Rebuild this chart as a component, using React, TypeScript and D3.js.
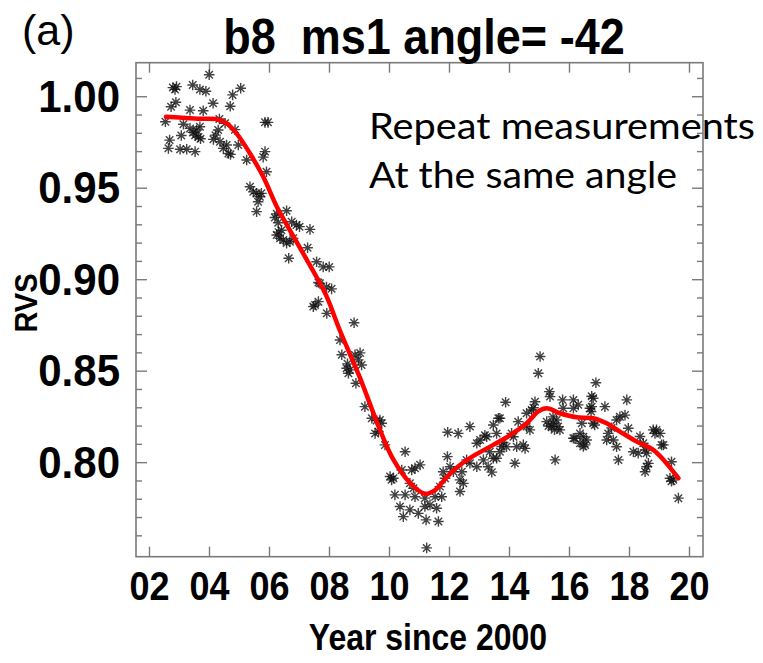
import React from "react";
import * as d3 from "d3";

// Measurements: [year since 2000, RVS]
const measurements: [number, number][] = [
  [3.99,1.012],[2.78,1.005],[2.90,1.0055],[2.85,1.004],[3.44,1.0064],[3.68,1.004],[3.88,1.003],[4.77,1.001],[5.04,1.0046],
  [2.88,0.997],[2.72,0.9945],[4.12,0.9964],[4.69,0.9948],[3.35,0.9927],[3.79,0.9923],
  [2.53,0.9863],[3.13,0.985],[3.35,0.9827],[3.57,0.9818],[3.68,0.9836],[3.52,0.979],[3.63,0.978],[3.06,0.9788],[2.67,0.9763],[2.63,0.9718],[3.02,0.9713],[3.24,0.9713],[3.52,0.970],[3.45,0.9805],[3.70,0.977],
  [4.13,0.9767],[4.29,0.9818],[4.52,0.9855],[4.33,0.9878],[4.35,0.9754],[4.57,0.9736],[4.46,0.9718],[4.63,0.969],[4.70,0.9685],[4.85,0.982],[4.96,0.9736],[4.20,0.979],
  [5.85,0.986],[5.95,0.986],[5.79,0.967],[5.85,0.970],[5.24,0.9654],[5.90,0.959],
  [5.35,0.9508],[5.46,0.948],[5.57,0.9472],[5.68,0.9453],[5.73,0.9472],[5.62,0.9426],[5.57,0.9372],
  [6.18,0.934],[6.24,0.936],[6.57,0.9377],[6.29,0.9311],[6.24,0.9244],[6.35,0.9226],[6.46,0.9217],[6.57,0.920],[6.68,0.9208],[6.79,0.9226],[6.74,0.9317],[6.90,0.9299],[7.00,0.929],[7.35,0.9275],[6.30,0.926],[6.40,0.927],
  [6.64,0.9117],[7.27,0.9175],[7.57,0.9098],[7.79,0.907],[7.99,0.907],[7.63,0.8985],[7.68,0.898],[7.90,0.896],[8.07,0.895],[7.52,0.8862],[7.46,0.8853],[7.63,0.888],[7.91,0.8816],
  [8.82,0.8765],[8.35,0.867],[8.41,0.859],[8.85,0.8589],[8.96,0.8562],[9.07,0.8534],[8.57,0.8516],[8.68,0.8507],[8.63,0.8489],[9.02,0.860],[8.60,0.854],[8.88,0.8434],
  [9.18,0.8306],[9.41,0.8243],[9.68,0.8233],[9.74,0.8215],[9.57,0.823],[9.52,0.816],[9.63,0.817],[9.85,0.8097],[10.52,0.806],
  [10.02,0.7924],[10.13,0.7915],[10.07,0.7906],[10.41,0.796],[10.74,0.796],[10.85,0.797],[11.02,0.7988],[10.68,0.7887],[10.80,0.786],
  [10.18,0.7824],[10.52,0.7824],[10.85,0.7814],[11.18,0.7806],[11.52,0.7814],[11.74,0.7814],
  [10.35,0.776],[10.68,0.7742],[10.46,0.7705],[10.96,0.7723],[11.18,0.776],[11.35,0.7769],[11.57,0.7751],[11.22,0.7687],[11.63,0.7678],[11.24,0.7534],
  [11.68,0.7869],[11.85,0.7915],[11.79,0.795],[11.93,0.8033],[12.02,0.7978],
  [11.94,0.8166],[12.29,0.816],[12.68,0.8197],
  [12.13,0.795],[12.41,0.795],[12.35,0.7906],[12.46,0.7887],[12.35,0.7842],[12.57,0.8015],[12.68,0.7997],[12.91,0.7978],
  [12.91,0.8106],[13.02,0.8124],[13.18,0.815],[13.13,0.8015],[13.29,0.7978],
  [13.46,0.8206],[13.63,0.8243],[13.57,0.816],[13.24,0.8142],[13.87,0.833],[13.41,0.7948],[13.57,0.8024],[13.68,0.806],[13.74,0.8088],[13.68,0.8243],[13.79,0.811],[13.34,0.806],[13.46,0.8024],
  [14.18,0.7997],[13.90,0.8087],[14.24,0.8087],[14.46,0.8097],[14.52,0.8078],[14.29,0.8224],[14.07,0.816],[14.13,0.8142],[14.57,0.8197],[14.68,0.8179],[14.74,0.8288],[14.85,0.8333],[14.80,0.830],[14.57,0.827],
  [15.02,0.858],[14.96,0.8489],[15.33,0.8388],[15.35,0.8361],
  [15.24,0.8224],[15.46,0.8215],[15.57,0.8233],[15.62,0.8197],[15.40,0.8197],[15.68,0.8179],[15.30,0.820],[15.50,0.818],[15.45,0.825],[15.52,0.8015],
  [15.77,0.8343],[16.13,0.8343],[16.29,0.8316],[16.13,0.8297],[15.79,0.8297],
  [16.41,0.8215],[16.13,0.8133],[16.46,0.8142],[16.57,0.8124],[16.52,0.8097],[16.35,0.8106],[16.35,0.816],[16.18,0.8133],[16.46,0.8088],
  [16.79,0.8352],[16.68,0.8297],[16.88,0.8437],[16.74,0.8363],[16.74,0.8306],[16.72,0.8279],[17.18,0.8306],[16.79,0.8215],[16.84,0.8206],
  [17.29,0.816],[17.24,0.8124],[17.46,0.8124],[17.57,0.8087],[17.63,0.8015],[17.40,0.819],
  [17.57,0.8233],[17.68,0.8251],[17.85,0.826],[17.96,0.8188],[17.91,0.8343],
  [18.13,0.806],[18.29,0.8052],[18.46,0.8106],[18.52,0.807],[18.57,0.8052],[18.35,0.8143],[18.57,0.7978],[18.52,0.795],[18.63,0.7996],
  [18.79,0.8179],[18.90,0.8179],[18.85,0.816],[19.02,0.816],[19.07,0.8097],[19.13,0.8097],
  [19.40,0.8005],[19.35,0.7915],[19.46,0.7906],[19.40,0.7898],[19.63,0.7806],
];

// Smoothed fit (red curve)
const fitYears = [2.55,3.0,3.7,4.2,4.55,4.9,5.35,5.8,6.24,6.68,7.24,7.6,7.9,8.35,9.0,9.68,10.13,10.68,11.18,11.52,11.9,12.35,12.8,13.46,14.02,14.57,14.96,15.24,15.68,16.24,16.79,17.24,17.68,18.24,18.79,19.13,19.63];
const fitRVS = [0.989,0.9886,0.988,0.9878,0.9857,0.980,0.969,0.956,0.940,0.927,0.911,0.9005,0.891,0.8721,0.847,0.818,0.8016,0.789,0.783,0.785,0.792,0.7987,0.8037,0.8097,0.815,0.8215,0.828,0.8297,0.827,0.8248,0.8243,0.8215,0.817,0.8115,0.807,0.8016,0.7915];

const xTickValues = [2, 4, 6, 8, 10, 12, 14, 16, 18, 20];
const xTickLabels = ["02", "04", "06", "08", "10", "12", "14", "16", "18", "20"];
const yMajorTicks = [0.8, 0.85, 0.9, 0.95, 1.0];
const yMajorLabels = ["0.80", "0.85", "0.90", "0.95", "1.00"];
const yMinorTicks = [0.76,0.77,0.78,0.79,0.81,0.82,0.83,0.84,0.86,0.87,0.88,0.89,0.91,0.92,0.93,0.94,0.96,0.97,0.98,0.99,1.01];

const title = "b8  ms1 angle= -42";
const panelLabel = "(a)";
const xLabel = "Year since 2000";
const yLabel = "RVS";
const noteLines = ["Repeat measurements", "At the same angle"];

const W = 763, H = 663;
const L = 136, R = 703, T = 62.7, B = 556.7;
const AX = "#7a7a7a";
const FONT = "'Liberation Sans', Arial, Helvetica, sans-serif";

export default function App() {
  const x = d3.scaleLinear().domain([1.55, 20.45]).range([L, R]);
  const y = d3.scaleLinear().domain([0.7486, 1.0186]).range([B, T]);
  const line = d3
    .line<number>()
    .x((_, i) => x(fitYears[i]))
    .y((d) => y(d))
    .curve(d3.curveCatmullRom.alpha(0.5));
  const fitPath = line(fitRVS) || "";
  const r = 5.3;
  const rd = r * 0.7071;
  const star = `M${-r},0L${r},0M0,${-r}L0,${r}M${-rd},${-rd}L${rd},${rd}M${-rd},${rd}L${rd},${-rd}`;

  return (
    <svg width={W} height={H} style={{ position: "absolute", left: 0, top: 0, background: "#fff" }}>
      <rect x={0} y={0} width={W} height={H} fill="#fff" />
      {/* frame */}
      <rect x={L} y={T} width={R - L} height={B - T} fill="none" stroke={AX} strokeWidth={1.6} />
      {/* x ticks */}
      {xTickValues.map((v) => (
        <g key={"xt" + v}>
          <line x1={x(v)} x2={x(v)} y1={B} y2={B - 10} stroke={AX} strokeWidth={1.4} />
          <line x1={x(v)} x2={x(v)} y1={T} y2={T + 10} stroke={AX} strokeWidth={1.4} />
        </g>
      ))}
      {/* y ticks */}
      {yMajorTicks.map((v) => (
        <g key={"ym" + v}>
          <line x1={L} x2={L + 11} y1={y(v)} y2={y(v)} stroke={AX} strokeWidth={1.4} />
          <line x1={R} x2={R - 11} y1={y(v)} y2={y(v)} stroke={AX} strokeWidth={1.4} />
        </g>
      ))}
      {yMinorTicks.map((v) => (
        <g key={"yn" + v}>
          <line x1={L} x2={L + 6} y1={y(v)} y2={y(v)} stroke={AX} strokeWidth={1.4} />
          <line x1={R} x2={R - 6} y1={y(v)} y2={y(v)} stroke={AX} strokeWidth={1.4} />
        </g>
      ))}
      {/* points */}
      <g stroke="#111" strokeWidth={1.4} fill="none" strokeOpacity={0.8}>
        {measurements.map(([yr, v], i) => (
          <path key={"p" + i} d={star} transform={`translate(${x(yr)},${y(v)})`} />
        ))}
      </g>
      {/* fit */}
      <path d={fitPath} fill="none" stroke="#ff0000" strokeWidth={4.5} strokeLinecap="round" strokeLinejoin="round" />
      {/* tick labels */}
      {xTickValues.map((v, i) => (
        <text key={"xl" + v} transform={`translate(${x(v)},600) scale(1,1.12)`} textAnchor="middle" fontFamily={FONT} fontWeight="bold" fontSize={36}>
          {xTickLabels[i]}
        </text>
      ))}
      {yMajorTicks.map((v, i) => (
        <text key={"yl" + v} transform={`translate(120,${y(v) + 15}) scale(1,1.06)`} textAnchor="end" fontFamily={FONT} fontWeight="bold" fontSize={42}>
          {yMajorLabels[i]}
        </text>
      ))}
      {/* axis titles */}
      <text transform="translate(428,650) scale(1,1.15)" textAnchor="middle" fontFamily={FONT} fontWeight="bold" fontSize={32}>
        {xLabel}
      </text>
      <text transform={`translate(37,303) rotate(-90) scale(1,1.1)`} textAnchor="middle" fontFamily={FONT} fontWeight="bold" fontSize={29}>
        {yLabel}
      </text>
      {/* title */}
      <text transform="translate(424,54) scale(1,1.12)" textAnchor="middle" fontFamily={FONT} fontWeight="bold" fontSize={45} style={{ whiteSpace: "pre" }}>
        {title}
      </text>
      <text x={22} y={45} fontFamily={FONT} fontSize={43}>
        {panelLabel}
      </text>
      {/* annotation */}
      <text x={369} y={139} fontFamily="Lato, 'Open Sans', sans-serif" fontSize={37} textLength={386} lengthAdjust="spacingAndGlyphs">
        {noteLines[0]}
      </text>
      <text x={369} y={188} fontFamily="Lato, 'Open Sans', sans-serif" fontSize={37} textLength={308} lengthAdjust="spacingAndGlyphs">
        {noteLines[1]}
      </text>
    </svg>
  );
}
